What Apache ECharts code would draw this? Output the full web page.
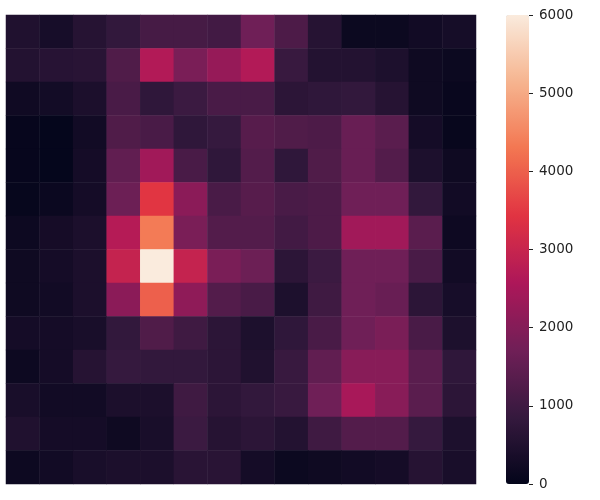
<!DOCTYPE html>
<html>
<head>
<meta charset="utf-8">
<script src="https://cdn.jsdelivr.net/npm/echarts@6/dist/echarts.min.js"></script>
<style>html,body{margin:0;padding:0;background:#fff}#c{width:600px;height:500px}</style>
</head>
<body>
<div id="c"></div>
<script>
const xCats = ['0','1','2','3','4','5','6','7','8','9','10','11','12','13'];
const yCats = ['0','1','2','3','4','5','6','7','8','9','10','11','12','13'];
const colorTicks = [0, 1000, 2000, 3000, 4000, 5000, 6000];
const rocket = ['#03051A','#35193E','#701F57','#AD1759','#E13342','#F37651','#F6B48F','#FAEBDD'];

const r0  = [500, 350, 600, 800, 1100, 1100, 1050, 1700, 1200, 600, 150, 150, 250, 330];
const r1  = [550, 620, 650, 1250, 2650, 1850, 2250, 2650, 900, 550, 550, 450, 200, 150];
const r2  = [220, 280, 420, 1150, 750, 950, 1150, 1150, 700, 750, 800, 600, 200, 100];
const r3  = [60, 40, 250, 1250, 1150, 750, 850, 1350, 1250, 1200, 1600, 1400, 300, 80];
const r4  = [60, 40, 300, 1500, 2400, 1150, 750, 1300, 750, 1250, 1600, 1300, 450, 200];
const r5  = [70, 140, 300, 1650, 3450, 2100, 1150, 1350, 1150, 1200, 1700, 1700, 800, 250];
const r6  = [170, 320, 420, 2700, 4350, 1850, 1300, 1300, 1050, 1200, 2400, 2400, 1400, 180];
const r7  = [200, 300, 420, 2950, 6000, 2950, 1850, 1650, 700, 950, 1700, 1700, 1150, 250];
const r8  = [200, 250, 420, 2100, 4000, 2150, 1300, 1150, 450, 1000, 1700, 1600, 700, 350];
const r9  = [300, 300, 380, 800, 1250, 1000, 700, 450, 750, 1150, 1700, 1850, 1150, 450];
const r10 = [170, 300, 600, 850, 800, 800, 700, 500, 900, 1500, 2050, 2050, 1400, 750];
const r11 = [380, 250, 250, 420, 420, 1000, 700, 800, 900, 1700, 2500, 2050, 1400, 700];
const r12 = [500, 300, 300, 200, 380, 950, 600, 700, 550, 1000, 1300, 1300, 850, 450];
const r13 = [170, 250, 380, 420, 420, 650, 650, 300, 150, 200, 250, 300, 600, 380];
const rows = [r0, r1, r2, r3, r4, r5, r6, r7, r8, r9, r10, r11, r12, r13];

const data = [];
rows.forEach((row, ri) => row.forEach((v, ci) => data.push([ci, ri, v])));

const chart = echarts.init(document.getElementById('c'), null, {renderer: 'canvas'});
chart.setOption({
  animation: false,
  grid: [
    {left: 6, top: 15, width: 470, height: 469},
    {left: 506, top: 15, width: 23, height: 469}
  ],
  xAxis: [
    {type: 'category', data: xCats, gridIndex: 0, show: false},
    {type: 'category', data: ['cb'], gridIndex: 1, show: false}
  ],
  yAxis: [
    {type: 'category', data: yCats, gridIndex: 0, inverse: true, show: false},
    {type: 'value', gridIndex: 1, min: 0, max: 6000, interval: 1000, position: 'right', z: 10,
     axisLine: {show: false, onZero: false}, splitLine: {show: false},
     axisTick: {show: true, length: 4, lineStyle: {color: '#222', width: 1}},
     axisLabel: {color: '#222', fontSize: 13.5, fontFamily: 'DejaVu Sans', margin: 10,
       formatter: v => colorTicks.indexOf(v) >= 0 ? String(v) : ''}}
  ],
  visualMap: {
    type: 'continuous', min: 0, max: 6000, seriesIndex: 0,
    calculable: false, text: null, showLabel: false, hoverLink: false,
    itemWidth: 23, itemHeight: 469, left: 501, top: 10, padding: 5,
    inRange: {color: rocket}
  },
  series: [{
    type: 'heatmap', xAxisIndex: 0, yAxisIndex: 0, data: data,
    itemStyle: {borderWidth: 0},
    emphasis: {disabled: true}
  }]
});
</script>
</body>
</html>
